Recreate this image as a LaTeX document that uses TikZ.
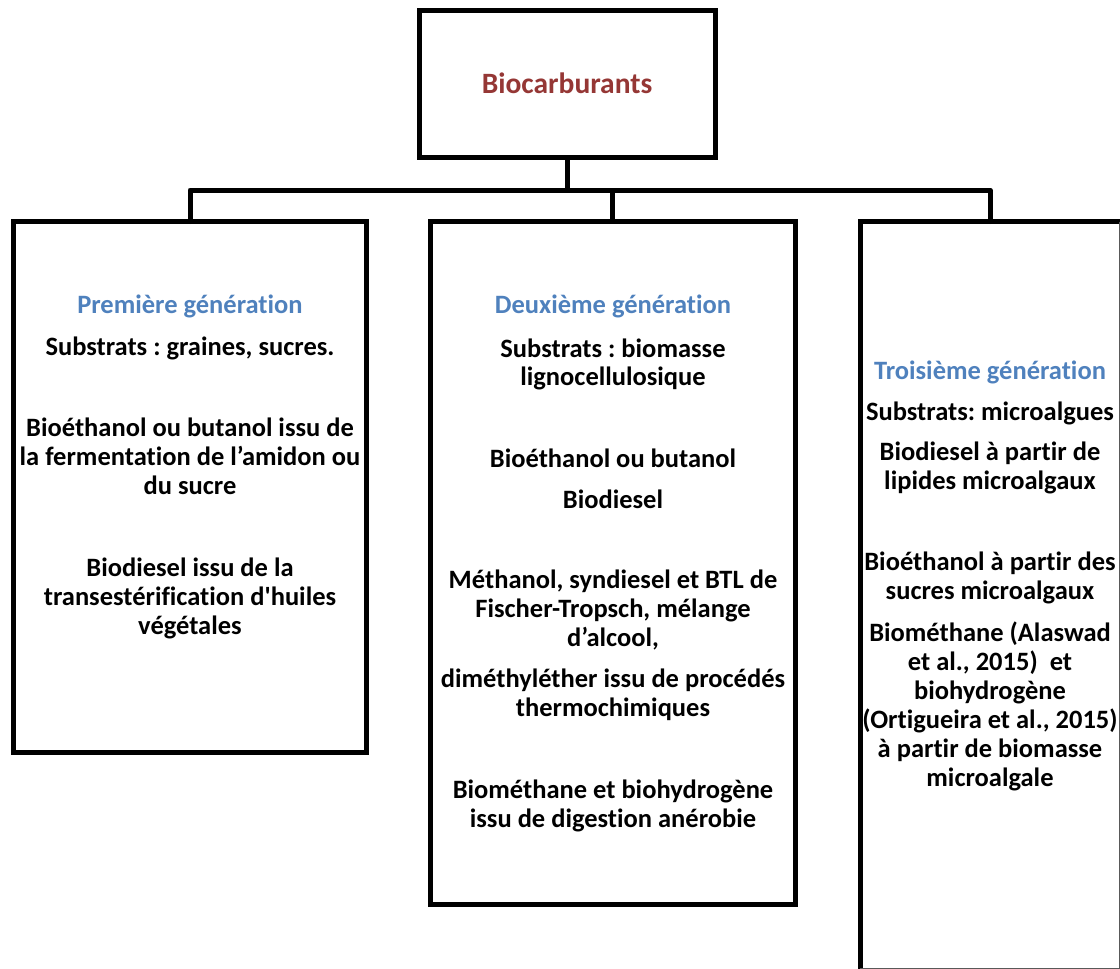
\documentclass[tikz,border=0pt]{standalone}
\usepackage{fontspec}
\setmainfont{Carlito}[BoldFont={Carlito Bold}, Ligatures={TeXOff,NoCommon}]
\definecolor{titlered}{HTML}{953735}
\definecolor{genblue}{HTML}{4F81BD}
\frenchspacing
\begin{document}
\begin{tikzpicture}[x=1pt,y=-1pt,
  box/.style={draw=black, line width=5pt, inner sep=0pt, outer sep=0pt, rectangle},
  conn/.style={draw=black, line width=5pt},
  txt/.style={font=\bfseries\fontsize{26.5}{29}\selectfont, anchor=base, inner sep=0pt},
  gen/.style={txt, text=genblue},
]
\useasboundingbox (0,0) rectangle (1120,969);
% boxes
\node[box, minimum width=296pt, minimum height=147pt] (top) at (567,84) {};
\node[box, minimum width=353.5pt, minimum height=530.5pt] (b1) at (189.75,486.75) {};
\node[box, minimum width=365.5pt, minimum height=683pt] (b2) at (612.75,563) {};
% right box (cut by the picture edge)
\coordinate (b3tl) at (860,221.5);
\coordinate (b3br) at (1119.5,968.5);
\draw[line width=5pt] (b3tl |- b3br) -- (b3tl) -- (b3tl -| b3br);
\draw[line width=1.2pt, draw=black!65] (b3tl -| b3br) -- (b3br) -- (b3tl |- b3br);
% connectors
\coordinate (hub) at (567,190);
\coordinate (hl) at (190,190);
\coordinate (hm) at (612,190);
\coordinate (hr) at (990,190);
\draw[conn] (top.south) -- (hub);
\draw[conn, line cap=round, line join=round] (190,221.5) -- (hl) -- (hr) -- (990,221.5);
\draw[conn] (hm) -- (b2.north -| hm);
% title
\node[txt, font=\bfseries\fontsize{29.5}{32}\selectfont, text=titlered] (title) at (567,93) {Biocarburants};
% first generation
\node[gen] (g1) at (190,313) {Première génération};
\node[txt] (a1) at (190,355) {Substrats : graines, sucres.};
\node[txt] (a2) at (190,436) {Bioéthanol ou butanol issu de};
\node[txt] (a3) at (190,465) {la fermentation de l’amidon ou};
\node[txt] (a4) at (190,494) {du sucre};
\node[txt] (a5) at (190,576) {Biodiesel issu de la};
\node[txt] (a6) at (190,605) {transestérification d'huiles};
\node[txt] (a7) at (190,634) {végétales};
% second generation
\node[gen] (g2) at (613,313) {Deuxième génération};
\node[txt] (m1) at (613,357) {Substrats : biomasse};
\node[txt] (m2) at (613,385) {lignocellulosique};
\node[txt] (m3) at (613,467) {Bioéthanol ou butanol};
\node[txt] (m4) at (613,508) {Biodiesel};
\node[txt] (m5) at (613,588) {Méthanol, syndiesel et BTL de};
\node[txt] (m6) at (613,617) {Fischer-Tropsch, mélange};
\node[txt] (m7) at (613,646) {d’alcool,};
\node[txt] (m8) at (613,687) {diméthyléther issu de procédés};
\node[txt] (m9) at (613,716) {thermochimiques};
\node[txt] (m10) at (613,798) {Biométhane et biohydrogène};
\node[txt] (m11) at (613,827) {issu de digestion anérobie};
% third generation
\node[gen] (g3) at (990,379) {Troisième génération};
\node[txt] (r1) at (990,420) {Substrats: microalgues};
\node[txt] (r2) at (990,460) {Biodiesel à partir de};
\node[txt] (r3) at (990,489) {lipides microalgaux};
\node[txt] (r4) at (990,570) {Bioéthanol à partir des};
\node[txt] (r5) at (990,599) {sucres microalgaux};
\node[txt] (r6) at (990,641) {Biométhane (Alaswad};
\node[txt] (r7) at (990,670) {et al., 2015)~ et};
\node[txt] (r8) at (990,699) {biohydrogène};
\node[txt] (r9) at (990,728) {(Ortigueira et al., 2015)};
\node[txt] (r10) at (990,757) {à partir de biomasse};
\node[txt] (r11) at (990,786) {microalgale};
\end{tikzpicture}
\end{document}
